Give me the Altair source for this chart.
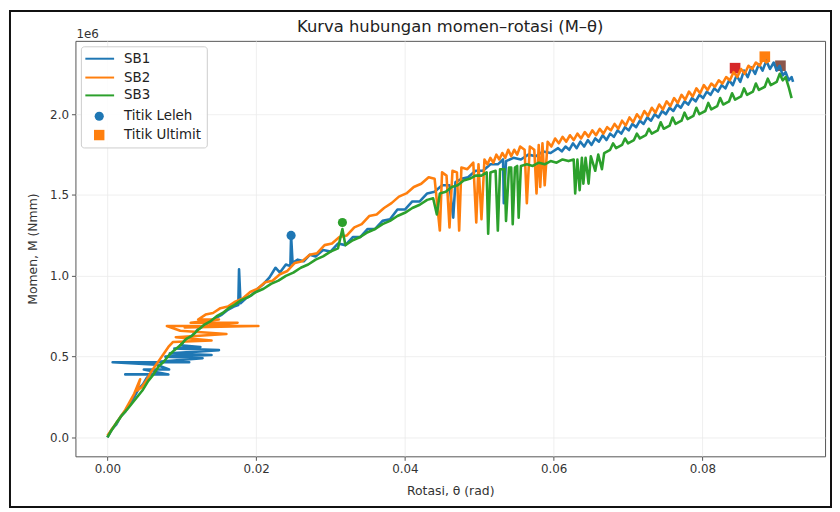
import altair as alt
import pandas as pd

# ---------------- data (theta in rad, M in 1e6 Nmm) ----------------
SB1_theta = [0.0000, 0.0006, 0.0012, 0.0018, 0.0024, 0.0030, 0.0036, 0.0042, 0.0048, 0.0053,
             0.0058, 0.0024, 0.0082, 0.0060, 0.0049, 0.0083, 0.0066, 0.0007, 0.0110, 0.0072,
             0.0128, 0.0078, 0.0140, 0.0084, 0.0150, 0.0090, 0.0125, 0.0098, 0.0106, 0.0114,
             0.0122, 0.0130, 0.0138, 0.0146, 0.0154, 0.0162, 0.0170, 0.0176, 0.0177, 0.0179,
             0.0186, 0.0194, 0.0202, 0.0210, 0.0218, 0.0226, 0.0232, 0.0240, 0.0246, 0.0247,
             0.0249, 0.0256, 0.0264, 0.0272, 0.0280, 0.0290, 0.0300, 0.0310, 0.0320, 0.0330,
             0.0340, 0.0350, 0.0360, 0.0370, 0.0380, 0.0390, 0.0400, 0.0410, 0.0420, 0.0430,
             0.0440, 0.0450, 0.0460, 0.0465, 0.0468, 0.0476, 0.0485, 0.0495, 0.0505, 0.0515,
             0.0525, 0.0532, 0.0533, 0.0536, 0.0546, 0.0556, 0.0566, 0.0576, 0.0586, 0.0596,
             0.0606, 0.0611, 0.0616, 0.0621, 0.0626, 0.0631, 0.0636, 0.0641, 0.0646, 0.0651,
             0.0656, 0.0661, 0.0666, 0.0671, 0.0676, 0.0681, 0.0686, 0.0691, 0.0696, 0.0701,
             0.0706, 0.0711, 0.0716, 0.0721, 0.0726, 0.0731, 0.0736, 0.0741, 0.0746, 0.0751,
             0.0756, 0.0761, 0.0766, 0.0771, 0.0776, 0.0781, 0.0786, 0.0791, 0.0796, 0.0801,
             0.0806, 0.0811, 0.0816, 0.0821, 0.0826, 0.0831, 0.0836, 0.0841, 0.0846, 0.0851,
             0.0856, 0.0861, 0.0866, 0.0871, 0.0876, 0.0881, 0.0886, 0.0891, 0.0896, 0.0900,
             0.0904, 0.0908, 0.0912, 0.0916, 0.0920, 0.0922]
SB1_M = [0.00, 0.05, 0.08, 0.13, 0.16, 0.21, 0.25, 0.30, 0.33, 0.37,
         0.39, 0.39, 0.39, 0.41, 0.42, 0.42, 0.45, 0.465, 0.465, 0.47,
         0.49, 0.50, 0.51, 0.52, 0.54, 0.55, 0.56, 0.57, 0.61, 0.63,
         0.67, 0.69, 0.72, 0.74, 0.76, 0.79, 0.81, 0.82, 1.04, 0.83,
         0.86, 0.88, 0.92, 0.95, 0.99, 1.05, 1.02, 1.07, 1.06, 1.25,
         1.08, 1.10, 1.09, 1.13, 1.12, 1.16, 1.15, 1.20, 1.19, 1.24,
         1.24, 1.29, 1.29, 1.34, 1.35, 1.41, 1.41, 1.46, 1.46, 1.51,
         1.52, 1.56, 1.56, 1.36, 1.58, 1.60, 1.61, 1.65, 1.65, 1.69,
         1.69, 1.72, 1.45, 1.71, 1.73, 1.72, 1.75, 1.74, 1.77, 1.76,
         1.79, 1.77, 1.80, 1.78, 1.82, 1.79, 1.83, 1.80, 1.84, 1.81,
         1.85, 1.83, 1.87, 1.84, 1.88, 1.86, 1.90, 1.88, 1.92, 1.90,
         1.94, 1.92, 1.96, 1.94, 1.98, 1.96, 2.00, 1.98, 2.02, 2.00,
         2.04, 2.02, 2.06, 2.04, 2.08, 2.06, 2.10, 2.08, 2.12, 2.10,
         2.14, 2.12, 2.16, 2.14, 2.18, 2.16, 2.21, 2.18, 2.24, 2.20,
         2.27, 2.23, 2.29, 2.25, 2.31, 2.27, 2.33, 2.28, 2.32, 2.27,
         2.30, 2.24, 2.26, 2.21, 2.23, 2.20]

SB2_theta = [0.0000, 0.0006, 0.0012, 0.0018, 0.0024, 0.0030, 0.0036, 0.0044, 0.0040, 0.0046,
             0.0052, 0.0058, 0.0064, 0.0070, 0.0076, 0.0082, 0.0088, 0.0140, 0.0092, 0.0160,
             0.0098, 0.0080, 0.0203, 0.0104, 0.0175, 0.0112, 0.0150, 0.0122, 0.0132, 0.0142,
             0.0152, 0.0162, 0.0172, 0.0182, 0.0192, 0.0202, 0.0212, 0.0222, 0.0232, 0.0242,
             0.0252, 0.0262, 0.0272, 0.0282, 0.0292, 0.0302, 0.0312, 0.0322, 0.0332, 0.0342,
             0.0352, 0.0362, 0.0372, 0.0382, 0.0392, 0.0402, 0.0412, 0.0422, 0.0432, 0.0440,
             0.0447, 0.0450, 0.0456, 0.0460, 0.0464, 0.0470, 0.0473, 0.0476, 0.0484, 0.0492,
             0.0496, 0.0499, 0.0503, 0.0507, 0.0511, 0.0515, 0.0519, 0.0523, 0.0527, 0.0531,
             0.0535, 0.0539, 0.0543, 0.0547, 0.0551, 0.0555, 0.0561, 0.0564, 0.0568, 0.0574,
             0.0577, 0.0580, 0.0582, 0.0585, 0.0588, 0.0592, 0.0597, 0.0602, 0.0607, 0.0612,
             0.0617, 0.0622, 0.0627, 0.0632, 0.0637, 0.0642, 0.0647, 0.0652, 0.0657, 0.0662,
             0.0667, 0.0672, 0.0677, 0.0682, 0.0687, 0.0692, 0.0697, 0.0702, 0.0707, 0.0712,
             0.0717, 0.0722, 0.0727, 0.0732, 0.0737, 0.0742, 0.0747, 0.0752, 0.0757, 0.0762,
             0.0767, 0.0772, 0.0777, 0.0782, 0.0787, 0.0792, 0.0797, 0.0802, 0.0807, 0.0812,
             0.0817, 0.0822, 0.0827, 0.0832, 0.0837, 0.0842, 0.0847, 0.0852, 0.0857, 0.0862,
             0.0867, 0.0872, 0.0877, 0.0882, 0.0886, 0.0889]
SB2_M = [0.01, 0.05, 0.09, 0.13, 0.17, 0.22, 0.27, 0.36, 0.29, 0.31,
         0.35, 0.40, 0.44, 0.48, 0.52, 0.56, 0.59, 0.60, 0.62, 0.64,
         0.66, 0.69, 0.69, 0.68, 0.71, 0.71, 0.73, 0.73, 0.76, 0.77,
         0.80, 0.81, 0.84, 0.86, 0.90, 0.92, 0.96, 0.97, 1.01, 1.03,
         1.08, 1.09, 1.13, 1.14, 1.19, 1.20, 1.24, 1.25, 1.30, 1.32,
         1.37, 1.38, 1.42, 1.45, 1.49, 1.51, 1.55, 1.57, 1.61, 1.60,
         1.28, 1.64, 1.62, 1.30, 1.65, 1.64, 1.28, 1.67, 1.66, 1.70,
         1.33, 1.69, 1.35, 1.72, 1.69, 1.73, 1.70, 1.75, 1.72, 1.76,
         1.73, 1.78, 1.74, 1.78, 1.75, 1.80, 1.78, 1.45, 1.80, 1.78,
         1.51, 1.81, 1.55, 1.82, 1.56, 1.83, 1.80, 1.85, 1.82, 1.86,
         1.83, 1.87, 1.84, 1.88, 1.85, 1.89, 1.86, 1.90, 1.87, 1.91,
         1.88, 1.92, 1.90, 1.94, 1.91, 1.96, 1.93, 1.98, 1.95, 2.00,
         1.97, 2.02, 1.99, 2.04, 2.01, 2.06, 2.03, 2.08, 2.05, 2.10,
         2.07, 2.12, 2.09, 2.14, 2.11, 2.16, 2.13, 2.18, 2.15, 2.19,
         2.17, 2.21, 2.19, 2.23, 2.21, 2.26, 2.23, 2.28, 2.25, 2.30,
         2.28, 2.32, 2.30, 2.35, 2.32, 2.33]

SB3_theta = [0.0000, 0.0005, 0.0012, 0.0020, 0.0026, 0.0033, 0.0040, 0.0047, 0.0055, 0.0062,
             0.0069, 0.0076, 0.0083, 0.0090, 0.0098, 0.0106, 0.0114, 0.0123, 0.0131, 0.0139,
             0.0147, 0.0155, 0.0163, 0.0171, 0.0180, 0.0190, 0.0200, 0.0210, 0.0220, 0.0230,
             0.0240, 0.0250, 0.0260, 0.0270, 0.0280, 0.0290, 0.0300, 0.0310, 0.0316, 0.0320,
             0.0330, 0.0340, 0.0350, 0.0360, 0.0370, 0.0380, 0.0390, 0.0400, 0.0410, 0.0420,
             0.0430, 0.0438, 0.0443, 0.0447, 0.0455, 0.0463, 0.0471, 0.0479, 0.0487, 0.0495,
             0.0503, 0.0510, 0.0512, 0.0515, 0.0522, 0.0525, 0.0528, 0.0534, 0.0536, 0.0540,
             0.0543, 0.0545, 0.0548, 0.0551, 0.0553, 0.0556, 0.0564, 0.0572, 0.0580, 0.0588,
             0.0596, 0.0604, 0.0612, 0.0620, 0.0627, 0.0629, 0.0632, 0.0635, 0.0638, 0.0640,
             0.0643, 0.0647, 0.0650, 0.0656, 0.0660, 0.0665, 0.0668, 0.0676, 0.0680, 0.0684,
             0.0692, 0.0696, 0.0700, 0.0708, 0.0712, 0.0716, 0.0724, 0.0728, 0.0732, 0.0740,
             0.0744, 0.0748, 0.0756, 0.0760, 0.0764, 0.0772, 0.0776, 0.0780, 0.0788, 0.0792,
             0.0796, 0.0804, 0.0808, 0.0812, 0.0820, 0.0824, 0.0828, 0.0836, 0.0840, 0.0844,
             0.0852, 0.0856, 0.0860, 0.0868, 0.0872, 0.0876, 0.0884, 0.0888, 0.0892, 0.0900,
             0.0904, 0.0908, 0.0912, 0.0916, 0.0920]
SB3_M = [0.00, 0.04, 0.09, 0.14, 0.17, 0.21, 0.25, 0.29, 0.35, 0.39,
         0.44, 0.47, 0.51, 0.54, 0.57, 0.61, 0.63, 0.67, 0.70, 0.72,
         0.75, 0.77, 0.80, 0.82, 0.85, 0.87, 0.90, 0.92, 0.95, 0.97,
         1.00, 1.02, 1.05, 1.07, 1.10, 1.12, 1.15, 1.17, 1.29, 1.19,
         1.22, 1.24, 1.27, 1.29, 1.32, 1.34, 1.37, 1.39, 1.42, 1.44,
         1.47, 1.48, 1.38, 1.51, 1.52, 1.55, 1.56, 1.59, 1.60, 1.62,
         1.62, 1.64, 1.26, 1.64, 1.65, 1.28, 1.66, 1.66, 1.34, 1.67,
         1.67, 1.32, 1.67, 1.68, 1.36, 1.68, 1.69, 1.68, 1.70, 1.69,
         1.71, 1.70, 1.72, 1.71, 1.72, 1.51, 1.72, 1.53, 1.73, 1.57,
         1.73, 1.57, 1.74, 1.65, 1.75, 1.66, 1.76, 1.78, 1.82, 1.79,
         1.81, 1.85, 1.82, 1.84, 1.88, 1.85, 1.87, 1.91, 1.88, 1.90,
         1.95, 1.91, 1.93, 1.98, 1.94, 1.96, 2.01, 1.97, 1.99, 2.04,
         2.00, 2.02, 2.07, 2.03, 2.05, 2.10, 2.06, 2.08, 2.13, 2.09,
         2.11, 2.16, 2.12, 2.14, 2.19, 2.15, 2.17, 2.22, 2.18, 2.20,
         2.25, 2.21, 2.23, 2.17, 2.10]

series_names = ["SB1", "SB2", "SB3"]
series_colors = ["#1f77b4", "#ff7f0e", "#2ca02c"]

yield_theta = [0.0247, 0.0316]
yield_M = [1.25, 1.33]
yield_colors = ["#1f77b4", "#2ca02c"]

ult_theta = [0.0884, 0.0844, 0.0905]
ult_M = [2.356, 2.285, 2.30]
ult_colors = ["#ff7f0e", "#d62728", "#8c564b"]

x_ticks = [0.0, 0.02, 0.04, 0.06, 0.08]
y_ticks = [0.0, 0.5, 1.0, 1.5, 2.0]

legend_labels = ["SB1", "SB2", "SB3", "Titik Leleh", "Titik Ultimit"]

TITLE = "Kurva hubungan momen–rotasi (M–θ)"
X_TITLE = "Rotasi, θ (rad)"
Y_TITLE = "Momen, M (Nmm)"

FONT = "DejaVu Sans"
W, H = 756, 419

xs = alt.Scale(domain=[-0.0043, 0.0965], nice=False, zero=False)
ys = alt.Scale(domain=[-0.117, 2.454], nice=False, zero=False)
x_axis = alt.Axis(values=x_ticks, format=".2f", title=X_TITLE, grid=True)
y_axis = alt.Axis(values=y_ticks, format=".1f", title=Y_TITLE, grid=True)

one = pd.DataFrame({"a": [0]})

layers = []

# frame around whole figure
layers.append(alt.Chart(one).mark_rect(fill="transparent", stroke="#111111", strokeWidth=2).encode(
    x=alt.value(-66), x2=alt.value(762), y=alt.value(-30), y2=alt.value(470)))

# marker points (drawn beneath the lines, as in the source)
ydf = pd.DataFrame({"t": yield_theta, "m": yield_M, "c": yield_colors})
udf = pd.DataFrame({"t": ult_theta, "m": ult_M, "c": ult_colors})
layers.append(alt.Chart(ydf).mark_point(shape="circle", filled=True, size=85, opacity=1).encode(
    x=alt.X("t:Q", scale=xs, axis=x_axis), y=alt.Y("m:Q", scale=ys, axis=y_axis),
    color=alt.Color("c:N", scale=None)))
layers.append(alt.Chart(udf).mark_point(shape="square", filled=True, size=115, opacity=1).encode(
    x=alt.X("t:Q", scale=xs), y=alt.Y("m:Q", scale=ys),
    color=alt.Color("c:N", scale=None)))

# series lines
for name, tx, my, col in zip(series_names, [SB1_theta, SB2_theta, SB3_theta],
                             [SB1_M, SB2_M, SB3_M], series_colors):
    df = pd.DataFrame({"t": tx, "m": my, "i": list(range(len(tx)))})
    layers.append(alt.Chart(df).mark_line(color=col, strokeWidth=2.6, strokeJoin="round").encode(
        x=alt.X("t:Q", scale=xs, axis=x_axis), y=alt.Y("m:Q", scale=ys, axis=y_axis),
        order=alt.Order("i:Q")))

# title and offset text
layers.append(alt.Chart(one).mark_text(text=TITLE, font=FONT, fontSize=16.5, color="#222222",
                                       align="center", baseline="middle").encode(
    x=alt.value(W / 2), y=alt.value(-14)))
layers.append(alt.Chart(one).mark_text(text="1e6", font=FONT, fontSize=12, color="#333333",
                                       align="left", baseline="middle").encode(
    x=alt.value(1), y=alt.value(-7)))

# legend
layers.append(alt.Chart(one).mark_rect(fill="white", fillOpacity=0.85, stroke="#cccccc",
                                       strokeWidth=1, cornerRadius=3).encode(
    x=alt.value(6), x2=alt.value(133), y=alt.value(6), y2=alt.value(108)))
leg_y = [18, 37, 55, 76, 95]
for k in range(3):
    layers.append(alt.Chart(one).mark_rule(color=series_colors[k], strokeWidth=2).encode(
        x=alt.value(10), x2=alt.value(39), y=alt.value(leg_y[k])))
layers.append(alt.Chart(one).mark_point(shape="circle", filled=True, size=85, opacity=1,
                                        color="#1f77b4").encode(x=alt.value(24), y=alt.value(leg_y[3])))
layers.append(alt.Chart(one).mark_point(shape="square", filled=True, size=110, opacity=1,
                                        color="#ff7f0e").encode(x=alt.value(24), y=alt.value(leg_y[4])))
for k, lab in enumerate(legend_labels):
    layers.append(alt.Chart(one).mark_text(text=lab, font=FONT, fontSize=13.5, color="#222222",
                                           align="left", baseline="middle").encode(
        x=alt.value(49), y=alt.value(leg_y[k])))

chart = alt.layer(*layers).properties(
    width=W, height=H,
    autosize=alt.AutoSizeParams(type="none"),
    padding={"left": 68, "top": 31, "right": 7, "bottom": 54},
).configure_view(stroke="#555555", strokeWidth=1).configure_axis(
    domain=False, gridColor="#ebebeb", gridWidth=0.8, tickColor="#555555", tickSize=4,
    labelFont=FONT, titleFont=FONT, labelFontSize=12, titleFontSize=12.5,
    labelColor="#333333", titleColor="#333333", titleFontWeight="normal", labelPadding=3
).configure_axisX(titlePadding=10).configure_axisY(titlePadding=10)

chart.save("out.html", embed_options={"renderer": "svg", "actions": False})
